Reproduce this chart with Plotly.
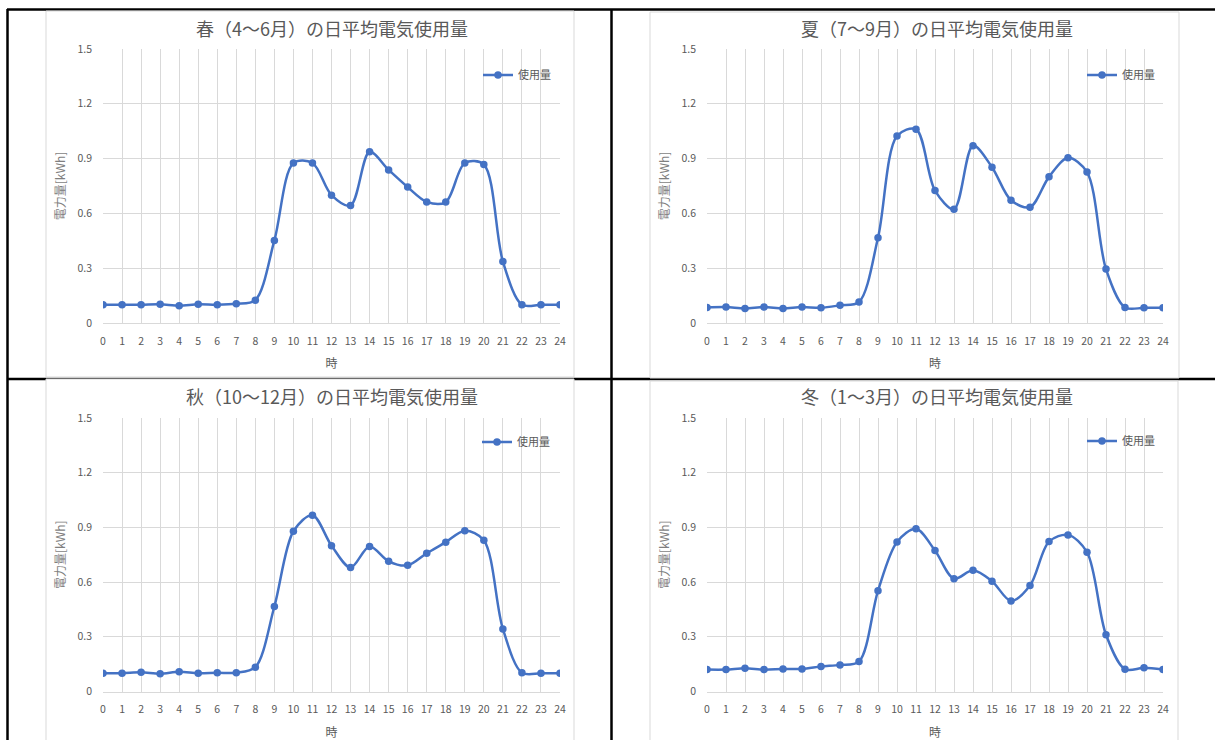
import plotly.graph_objects as go

W, H = 1215, 740

hours = list(range(25))
hour_labels = [str(h) for h in hours]
y_ticks = [0, 0.3, 0.6, 0.9, 1.2, 1.5]
y_tick_labels = ["0", "0.3", "0.6", "0.9", "1.2", "1.5"]

titles = [
    "春（4～6月）の日平均電気使用量",
    "夏（7～9月）の日平均電気使用量",
    "秋（10～12月）の日平均電気使用量",
    "冬（1～3月）の日平均電気使用量",
]
series_name = "使用量"
x_title = "時"
y_title = "電力量[kWh]"

spring = [0.10, 0.10, 0.10, 0.102, 0.095, 0.102, 0.10, 0.105, 0.125, 0.452, 0.876, 0.876, 0.70, 0.643,
          0.937, 0.838, 0.744, 0.663, 0.662, 0.876, 0.868, 0.337, 0.10, 0.10, 0.10]
summer = [0.085, 0.087, 0.08, 0.087, 0.08, 0.087, 0.083, 0.097, 0.115, 0.467, 1.024, 1.061, 0.725, 0.623,
          0.971, 0.853, 0.672, 0.634, 0.80, 0.904, 0.826, 0.295, 0.085, 0.083, 0.083]
autumn = [0.10, 0.10, 0.105, 0.097, 0.108, 0.10, 0.103, 0.103, 0.133, 0.466, 0.879, 0.967, 0.80, 0.68,
          0.795, 0.714, 0.692, 0.758, 0.819, 0.882, 0.83, 0.343, 0.103, 0.10, 0.10]
winter = [0.12, 0.12, 0.128, 0.12, 0.124, 0.124, 0.137, 0.146, 0.164, 0.552, 0.82, 0.892, 0.773, 0.618,
          0.665, 0.605, 0.497, 0.581, 0.822, 0.859, 0.764, 0.311, 0.122, 0.13, 0.12]
seasons = [spring, summer, autumn, winter]

BLUE = "#4472C4"
GRID = "#d9d9d9"
TXT = "#595959"
FONT = "Noto Sans CJK JP"

# panel geometry in pixels: plot area (left, right, top, bottom), chart box, title centre, legend marker centre
panels = [
    dict(pl=103, pr=560, pt=49, pb=323, box=(46, 11, 574, 377), tx=332, ty=28, lx=498, ly=75),
    dict(pl=707, pr=1163, pt=49, pb=323, box=(650, 12, 1179, 378), tx=937, ty=28, lx=1102, ly=75),
    dict(pl=103, pr=560, pt=418, pb=691.5, box=(46, 379, 574, 745), tx=332, ty=396, lx=497, ly=442),
    dict(pl=707, pr=1163, pt=418, pb=691.5, box=(650, 381, 1178, 745), tx=937, ty=396, lx=1102, ly=441),
]

def px(x):
    return x / W

def py(y):
    return 1 - y / H

fig = go.Figure()
shapes = []
annotations = []

# black table lines (drawn first, below chart boxes)
for (x0, y0, x1, y1) in [(7, 9.5, W, 9.5), (7.5, 9, 7.5, H), (611.5, 9, 611.5, H), (7, 379, W, 379)]:
    shapes.append(dict(type="line", xref="paper", yref="paper", x0=px(x0), y0=py(y0), x1=px(x1), y1=py(y1),
                       line=dict(color="black", width=2.5), layer="below"))

for i, (p, vals, title) in enumerate(zip(panels, seasons, titles)):
    n = "" if i == 0 else str(i + 1)
    bx0, by0, bx1, by1 = p["box"]
    shapes.append(dict(type="rect", xref="paper", yref="paper", x0=px(bx0), y0=py(by1), x1=px(bx1), y1=py(by0),
                       line=dict(color=GRID, width=1), fillcolor="white", layer="below"))
    fig.add_trace(go.Scatter(
        x=hours, y=vals, name=series_name, mode="lines+markers",
        line=dict(color=BLUE, width=2.5, shape="spline", smoothing=0.9),
        marker=dict(color=BLUE, size=7.5),
        xaxis="x" + n, yaxis="y" + n, legend="legend" + n, showlegend=True,
    ))
    fig.layout["xaxis" + n] = dict(
        domain=[px(p["pl"]), px(p["pr"])], anchor="y" + n, range=[0, 24], automargin=False,
        tickvals=hours, ticktext=hour_labels, showgrid=True, gridcolor=GRID, gridwidth=1,
        showline=True, linecolor=GRID, linewidth=1, zeroline=False, ticks="",
        tickfont=dict(family=FONT, size=10.5, color=TXT), ticklabelstandoff=8,
        title=dict(text=x_title, font=dict(family=FONT, size=12, color=TXT), standoff=13),
        fixedrange=True,
    )
    fig.layout["yaxis" + n] = dict(
        domain=[py(p["pb"]), py(p["pt"])], anchor="x" + n, range=[0, 1.5], automargin=False,
        tickvals=y_ticks, ticktext=y_tick_labels, showgrid=True, gridcolor=GRID, gridwidth=1,
        showline=False, zeroline=False, ticks="",
        tickfont=dict(family=FONT, size=10.5, color=TXT), ticklabelstandoff=10,
        title=dict(text=y_title, font=dict(family=FONT, size=12, color="#7f7f7f"), standoff=9),
        fixedrange=True,
    )
    fig.layout["legend" + n] = dict(
        x=px(p["lx"] - 20), y=py(p["ly"]), xanchor="left", yanchor="middle",
        bgcolor="rgba(0,0,0,0)", font=dict(family=FONT, size=11, color=TXT),
        itemwidth=30,
    )
    annotations.append(dict(text=title, x=px(p["tx"]), y=py(p["ty"]), xref="paper", yref="paper",
                            xanchor="center", yanchor="middle", showarrow=False,
                            font=dict(family=FONT, size=18, color=TXT)))

fig.update_layout(
    width=W, height=H, margin=dict(l=0, r=0, t=0, b=0, pad=0, autoexpand=False),
    paper_bgcolor="white", plot_bgcolor="white",
    shapes=shapes, annotations=annotations,
    font=dict(family=FONT, color=TXT),
)

fig.write_html(
    "out.html",
    config={"displayModeBar": False},
    post_script="document.body.style.margin='0';document.body.style.padding='0';document.body.style.overflow='hidden';",
)
